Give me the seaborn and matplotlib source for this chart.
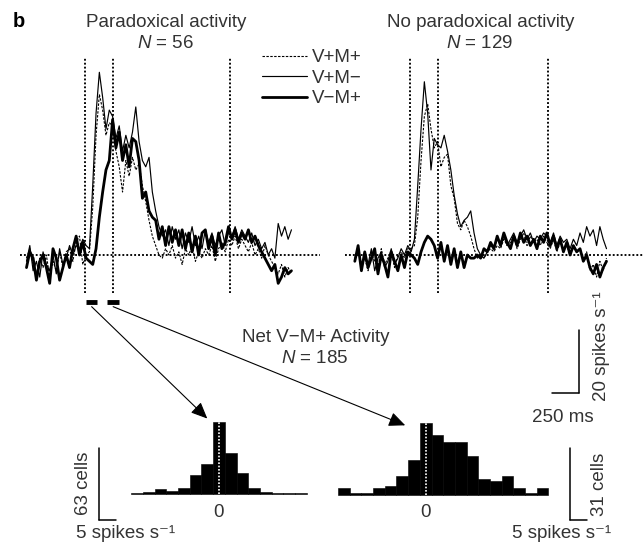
import numpy as np
import matplotlib
matplotlib.use("Agg")
import matplotlib.pyplot as plt
import seaborn as sns

# ---------------- data ----------------
conditions = ["V+M+", "V+M\u2212", "V\u2212M+"]
bin_ms = 30
left_t0 = -530
right_t0 = -500
left_events = [0, 250, 1310]
right_events = [0, 250, 1250]
analysis_windows = [(10, 110), (200, 310)]
n_left, n_right, n_total = 56, 129, 185

# Paradoxical activity population (spikes/s re. baseline)
left_vpmp = [-1, 2, -3, -6, -1, -4, 0, -7, -2, -5, 1, -4, 1, 2, -2, 4, 6, -3,
             0, 1, 15, 38, 51, 46, 38, 42, 41, 33, 28, 20, 30, 25, 31, 27, 29, 22, 17, 11, 6, 3,
             0, -1, 2, 0, 3, -1, 1, -3, 2, 0, 3, -2, 1, -1, 2, 0, 3, -2, 2, 4,
             1, 5, 3, 6, 2, 5, 3, 1, 4, 0, 2, -1, 3, 0, -2, -4, -6, -3, -7, -4, -6]
left_vpmm = [-2, 3, -5, -2, -7, 1, -3, -5, 0, -6, 2, -3, -1, 3, 0, 3, 2, 5,
             3, 2, 22, 45, 58, 50, 40, 46, 44, 37, 41, 33, 38, 34, 39, 47, 36, 30, 28, 31, 20, 14,
             9, 6, 8, 3, 9, 5, 8, 2, 7, 4, 9, 3, 6, 2, 8, 4, 7, 3, 6, 8,
             3, 7, 6, 9, 5, 8, 6, 4, 7, 3, 5, 2, 4, 0, 2, -1, 10, 6, 9, 5, 8]
left_vmmp = [-4, 1, -1, -8, -2, 0, -4, -9, 2, -1, -8, -4, 0, -4, 2, 6, 0, 4,
             -1, -2, -3, 2, 12, 20, 27, 30, 43, 34, 39, 30, 35, 28, 37, 36, 30, 18, 20, 14, 12, 11,
             5, 9, 3, 9, 4, 8, 3, 8, 2, 7, 1, 6, 0, 7, 8, 2, 6, 0, 7, 2,
             4, 9, 5, 8, 4, 7, 5, 8, 4, 6, 3, 1, -1, -3, -5, -3, -9, -7, -4, -6, -5]

# No paradoxical activity population
right_vpmp = [-2, 1, -3, -1, -5, 1, -2, -4, 2, -3, -1, 1, -4, 0, 1, -1, 2,
              2, 3, 12, 30, 44, 48, 40, 34, 36, 28, 31, 32, 22, 18, 10, 8, 11, 9, 6, 2,
              -1, 0, -1, 1, 2, 1, 3, 2, 5, 3, 4, 6, 2, 5, 7, 3, 6, 4, 5, 3,
              6, 4, 2, 5, 1, 4, 2, 3, 0, 3, 1, 2, -1, 1, -5, -3, -7, -2, -5, -1]
right_vpmm = [-1, 2, -4, 0, -3, 2, -5, -1, 1, -4, -2, 2, -3, -1, 2, 0, 3,
              1, 5, 22, 40, 55, 45, 27, 37, 35, 34, 38, 33, 27, 19, 13, 9, 11, 12, 14, 7,
              2, 0, -1, 1, 3, 2, 5, 4, 6, 3, 5, 7, 4, 6, 8, 5, 7, 4, 6, 5,
              7, 6, 4, 7, 3, 6, 4, 5, 2, 5, 3, 7, 4, 9, 6, 8, 3, 9, 5, 2]
right_vmmp = [-2, 3, -5, 1, -4, -1, 2, -6, 0, -3, -7, 1, -2, -5, 0, -4, 1,
              0, -1, -3, 1, 4, 6, 5, 3, -1, 4, -2, 3, -3, 2, -4, 1, -4, 0, -1, -1,
              0, -1, 2, 1, 4, 2, 6, 3, 7, 4, 2, 6, 3, 7, 4, 6, 3, 5, 2, 6,
              4, 7, 3, 6, 2, 5, 1, 4, 0, 3, 1, 2, -2, 0, -4, -6, -3, -7, -4, -2]

# Net V-M+ activity histograms (spikes/s bins, counts of cells)
hist_bin_width = 3.5
left_hist_centers = [-24.5, -21.0, -17.5, -14.0, -10.5, -7.0, -3.5, 0.0,
                     3.5, 7.0, 10.5, 14.0, 17.5, 21.0, 24.5]
left_hist_counts = [1, 2, 4, 3, 5, 17, 26, 63, 36, 18, 5, 2, 1, 1, 1]
right_hist_centers = [-24.5, -21.0, -17.5, -14.0, -10.5, -7.0, -3.5, 0.0,
                      3.5, 7.0, 10.5, 14.0, 17.5, 21.0, 24.5, 28.0, 31.5, 35.0]
right_hist_counts = [3, 1, 1, 3, 4, 8, 15, 31, 26, 23, 23, 17, 7, 6, 8, 3, 1, 3]

scale_rate, scale_ms = 20, 250
scale_hist_rate = 5
scale_cells_left, scale_cells_right = 63, 31

# ---------------- style ----------------
sns.set_style("white")
plt.rcParams["font.family"] = ["Liberation Sans", "DejaVu Sans"]
plt.rcParams["mathtext.fontset"] = "custom"
plt.rcParams["mathtext.rm"] = "Liberation Sans"
plt.rcParams["mathtext.it"] = "Liberation Sans:italic"
FS = 13.5
TXT = "#333333"

W, H = 644, 544
fig = plt.figure(figsize=(W / 100, H / 100), dpi=100)


def box(x0, y0, x1, y1):
    return [x0 / W, 1 - y1 / H, (x1 - x0) / W, (y1 - y0) / H]


def fx(x):
    return x / W


def fy(y):
    return 1 - y / H


def px_to_data(ax, xp, yp):
    return ax.transData.inverted().transform((xp, H - yp))


PX_PER_MS = 0.1104
PX_PER_RATE = 3.15
DOT = (0, (1, 1.1))
DOT_LW = 1.35

line_styles = [
    dict(lw=0.8, linestyle=(0, (2.2, 1.3))),
    dict(lw=0.85, linestyle="-"),
    dict(lw=2.0, linestyle="-"),
]


def trace_panel(rect, zero_px, t0, series, events):
    ax = fig.add_axes(box(*rect))
    x0, y0, x1, y1 = rect
    ax.set_xlim((x0 - zero_px) / PX_PER_MS, (x1 - zero_px) / PX_PER_MS)
    ax.set_ylim(-(y1 - 255) / PX_PER_RATE, (255 - y0) / PX_PER_RATE)
    t = t0 + bin_ms * np.arange(len(series[0]))
    for vals, st, lab in zip(series, line_styles, conditions):
        sns.lineplot(x=t, y=vals, ax=ax, color="black", label=lab,
                     legend=False, **st)
    ax.axhline(0, color="black", lw=DOT_LW, linestyle=DOT, zorder=0)
    ax.vlines(events, -12.0, 63.0, colors="black", lw=DOT_LW, linestyles=[DOT], zorder=0)
    ax.axis("off")
    return ax


ax_l = trace_panel((20, 55, 320, 312), 85, left_t0,
                   [left_vpmp, left_vpmm, left_vmmp], left_events)
ax_r = trace_panel((345, 55, 644, 312), 410, right_t0,
                   [right_vpmp, right_vpmm, right_vmmp], right_events)

# analysis windows (black bars)
win_y = -14.9
for a, b in analysis_windows:
    ax_l.hlines(win_y, a, b, colors="black", lw=3.5, clip_on=False)

# legend
handles = ax_l.get_lines()[:3]
fig.legend(handles, conditions, loc="upper left",
           bbox_to_anchor=(fx(262), fy(49)), frameon=False, fontsize=FS,
           handlelength=2.4, handletextpad=0.28, labelspacing=0.18,
           borderpad=0, borderaxespad=0, labelcolor=TXT)

# trace scale bar
sx, sy = px_to_data(ax_r, 579.3, 393.3)
ax_r.plot([sx, sx], [sy, sy + scale_rate], color="black", lw=1.1, clip_on=False)
ax_r.plot([sx - scale_ms, sx], [sy, sy], color="black", lw=1.1, clip_on=False)

# ---------------- histograms ----------------
HIST_PX_PER_RATE = 3.34


def hist_panel(rect, zero_px, base_px, px_per_cell, centers, counts, scale_cells, bar_px):
    ax = fig.add_axes(box(*rect))
    x0, y0, x1, y1 = rect
    ax.set_xlim((x0 - zero_px) / HIST_PX_PER_RATE, (x1 - zero_px) / HIST_PX_PER_RATE)
    ax.set_ylim(-(y1 - base_px) / px_per_cell, (base_px - y0) / px_per_cell)
    c = np.asarray(centers)
    edges = list(c - hist_bin_width / 2) + [c[-1] + hist_bin_width / 2]
    sns.histplot(x=centers, weights=counts, bins=edges, ax=ax, color="black",
                 alpha=1, edgecolor="black", linewidth=0.4)
    ax.vlines(0, 0, max(counts), colors="white", lw=1.2, linestyles=[(0, (1, 1))])
    bx, by = px_to_data(ax, *bar_px)
    ax.plot([bx, bx], [by, by + scale_cells], color="black", lw=1.1, clip_on=False)
    ax.plot([bx, bx + scale_hist_rate], [by, by], color="black", lw=1.1, clip_on=False)
    ax.axis("off")
    return ax


ax_h1 = hist_panel((90, 405, 318, 530), 219, 494, 72 / 63,
                   left_hist_centers, left_hist_counts, scale_cells_left, (99, 520))
ax_h2 = hist_panel((330, 405, 600, 530), 425.7, 495, 72 / 31,
                   right_hist_centers, right_hist_counts, scale_cells_right, (570, 520))

# arrows from analysis windows to histograms
arrow_kw = dict(arrowstyle="-|>,head_length=0.5,head_width=0.22", color="black",
                lw=0.8, shrinkA=0, shrinkB=0, mutation_scale=20)
for (a, b), axh, tgt in [(analysis_windows[0], ax_h1,
                          (-hist_bin_width, max(left_hist_counts) + 3)),
                         (analysis_windows[1], ax_h2,
                          (-1.75 * hist_bin_width, max(right_hist_counts) - 1))]:
    axh.annotate("", xy=tgt, xycoords="data", xytext=((a + b) / 2, win_y - 1.5),
                 textcoords=ax_l.transData, arrowprops=arrow_kw, annotation_clip=False)

# ---------------- text ----------------
kw = dict(fontsize=FS, color=TXT, va="baseline", ha="center")
fig.text(fx(13), fy(27), "b", fontsize=FS + 1, fontweight="bold", color="black",
         ha="left", va="baseline")
fig.text(fx(166.5), fy(27), "Paradoxical activity", **kw)
fig.text(fx(165.6), fy(48.3), f"$N$ = {n_left}", **kw)
fig.text(fx(481), fy(26.7), "No paradoxical activity", **kw)
fig.text(fx(480), fy(48.3), f"$N$ = {n_right}", **kw)
fig.text(fx(315.5), fy(341.7), "Net V\u2212M+ Activity", **kw)
fig.text(fx(314.5), fy(362.7), f"$N$ = {n_total}", **kw)
fig.text(fx(562.5), fy(421.7), f"{scale_ms} ms", **kw)
fig.text(fx(219), fy(516.7), "0", **kw)
fig.text(fx(425.7), fy(516.7), "0", **kw)
fig.text(fx(125.5), fy(538.5), f"{scale_hist_rate} spikes s\u207b\u00b9", **kw)
fig.text(fx(562), fy(538.5), f"{scale_hist_rate} spikes s\u207b\u00b9", **kw)
rk = dict(fontsize=FS, color=TXT, va="center", ha="center", rotation=90)
fig.text(fx(601), fy(346), f"{scale_rate} spikes s\u207b\u00b9", **rk)
fig.text(fx(83), fy(483), f"{scale_cells_left} cells", **rk)
fig.text(fx(600), fy(484), f"{scale_cells_right} cells", **rk)

fig.savefig("out.png", dpi=100)
